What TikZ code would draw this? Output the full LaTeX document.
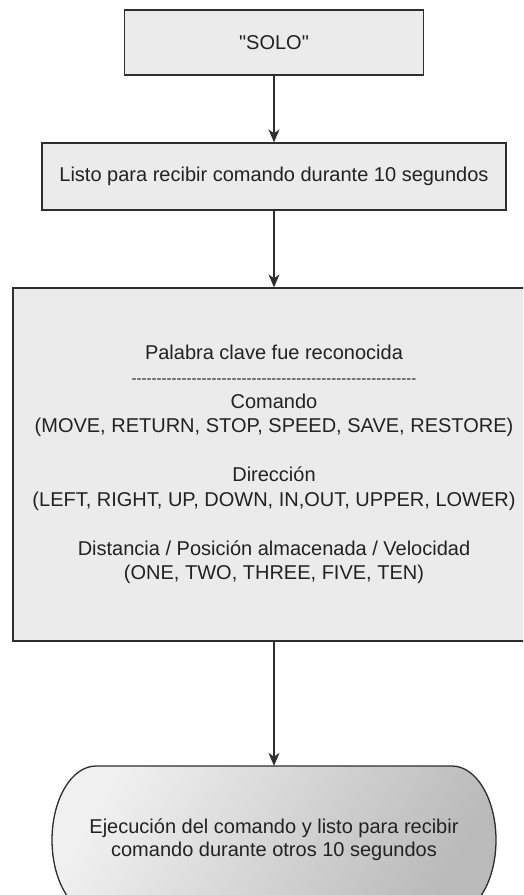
\documentclass[tikz,border=0pt]{standalone}
\usepackage{fontspec}
\setmainfont{Liberation Sans}[Ligatures=TeXOff]
\usetikzlibrary{arrows.meta}
\definecolor{boxfill}{HTML}{EBEBEB}
\definecolor{edge}{HTML}{2E2E2E}
\definecolor{txt}{HTML}{222222}
\begin{document}
\begin{tikzpicture}[x=1pt,y=-1pt,
  box/.style={draw=edge, line width=1.3pt, fill=boxfill, rectangle, inner sep=0pt,
    align=center, text=txt, font=\fontsize{20}{24.5}\selectfont},
  conn/.style={draw=edge, line width=1.4pt,
    -{Stealth[length=13pt,width=11pt,inset=4pt]}}]
\clip (0,0) rectangle (523,895);
\fill[white] (0,0) rectangle (523,895);

\node[box, minimum width=299pt, minimum height=65pt] (solo) at (274,42.5) {"SOLO"};
\node[box, minimum width=464pt, minimum height=67pt] (listo) at (274,176.5)
  {Listo para recibir comando durante 10 segundos};
\node[box, minimum width=522pt, minimum height=353pt] (palabra) at (274,464.5)
  {Palabra clave fue reconocida\\
   {\fontsize{15}{24.5}\selectfont ---------------------------------------------------------}\\
   Comando\\
   (MOVE, RETURN, STOP, SPEED, SAVE, RESTORE)\\[24.5pt]
   Dirección\\
   (LEFT, RIGHT, UP, DOWN, IN,OUT, UPPER, LOWER)\\[24.5pt]
   Distancia / Posición almacenada / Velocidad\\
   (ONE, TWO, THREE, FIVE, TEN)};

% terminal shape
\shade[shading=axis, top color=black!6, bottom color=black!27, shading angle=60]
  (96,766) -- (452,766)
  .. controls (476.3,766) and (496,799.1) .. (496,840)
  .. controls (496,880.9) and (476.3,914) .. (452,914)
  -- (96,914)
  .. controls (71.7,914) and (52,880.9) .. (52,840)
  .. controls (52,799.1) and (71.7,766) .. (96,766) -- cycle;
\draw[draw=edge, line width=1.3pt]
  (96,766) -- (452,766)
  .. controls (476.3,766) and (496,799.1) .. (496,840)
  .. controls (496,880.9) and (476.3,914) .. (452,914)
  -- (96,914)
  .. controls (71.7,914) and (52,880.9) .. (52,840)
  .. controls (52,799.1) and (71.7,766) .. (96,766) -- cycle;
\node[minimum width=444pt, minimum height=148pt, inner sep=0pt, align=center,
  text=txt, font=\fontsize{20}{23}\selectfont] (exec) at (274,840)
  {Ejecución del comando y listo para recibir\\comando durante otros 10 segundos};

\draw[conn] (solo.south) -- (listo.north);
\draw[conn] (listo.south) -- (palabra.north);
\draw[conn] (palabra.south) -- (exec.north);
\end{tikzpicture}
\end{document}
